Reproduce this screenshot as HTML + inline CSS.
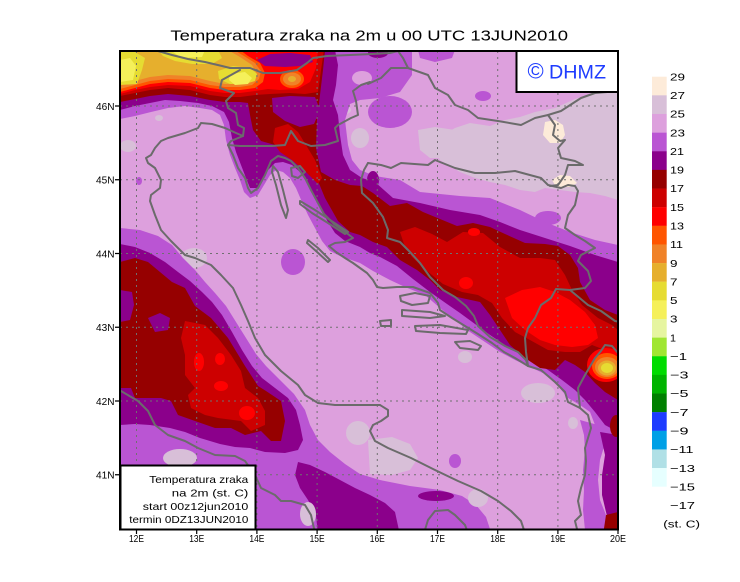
<!DOCTYPE html>
<html><head><meta charset="utf-8"><style>
html,body{margin:0;padding:0;background:#fff;}
svg{display:block;}
text{font-family:"Liberation Sans",sans-serif;fill:#000;}
</style></head><body>
<svg width="740" height="582" viewBox="0 0 740 582" xmlns="http://www.w3.org/2000/svg">
<rect width="740" height="582" fill="#fff"/>
<defs><clipPath id="m"><rect x="120" y="51" width="498" height="478.5"/></clipPath></defs>
<text x="170.4" y="40.6" font-size="15" textLength="397.6" lengthAdjust="spacingAndGlyphs">Temperatura zraka na 2m u 00 UTC 13JUN2010</text>
<g clip-path="url(#m)">
<rect x="115" y="45" width="510" height="490" fill="#dda0dd"/>
<polygon fill="#d8bfd8" points="455,128 470,123 490,126 505,120 520,117 535,112 555,108 575,99 595,93 618,92 618,200 605,196 590,193 575,192 560,190 545,188 535,192 520,190 505,185 490,182 475,178 460,172 448,165 440,160 432,150 438,140 448,132"/>
<polygon fill="#d8bfd8" points="418,130 435,127 455,130 458,145 450,158 430,158 420,150"/>
<ellipse fill="#d8bfd8" cx="345" cy="110" rx="6" ry="4"/>
<ellipse fill="#d8bfd8" cx="360" cy="138" rx="9" ry="10"/>
<polygon fill="#fdebd9" points="545,122 555,120 563,125 565,135 560,143 550,143 543,135"/>
<polygon fill="#fdebd9" points="552,180 560,175 570,176 577,183 570,187 556,187"/>
<ellipse fill="#d8bfd8" cx="128" cy="146" rx="8" ry="6"/>
<ellipse fill="#d8bfd8" cx="159" cy="118" rx="4" ry="3"/>
<ellipse fill="#d8bfd8" cx="194" cy="258" rx="13" ry="10"/>
<ellipse fill="#d8bfd8" cx="465" cy="357" rx="7" ry="6"/>
<ellipse fill="#d8bfd8" cx="538" cy="393" rx="17" ry="10"/>
<ellipse fill="#d8bfd8" cx="358" cy="433" rx="12" ry="12"/>
<ellipse fill="#d8bfd8" cx="573" cy="423" rx="5" ry="6"/>
<polygon fill="#d8bfd8" points="368,440 392,437 410,444 418,458 410,470 392,475 370,474"/>
<ellipse fill="#ba55d3" cx="293" cy="262" rx="12" ry="13"/>
<ellipse fill="#ba55d3" cx="455" cy="461" rx="6" ry="7"/>
<ellipse fill="#ba55d3" cx="139" cy="181" rx="3" ry="4"/>
<ellipse fill="#ba55d3" cx="390" cy="112" rx="22" ry="16"/>
<polygon fill="#ba55d3" points="418,50 455,50 452,58 435,62 420,58"/>
<ellipse fill="#ba55d3" cx="483" cy="96" rx="8" ry="5"/>
<ellipse fill="#ba55d3" cx="548" cy="218" rx="13" ry="7"/>
<polygon fill="#ba55d3" points="120,50 412,50 412,75 400,92 380,98 360,100 350,104 345,120 348,145 352,160 360,170 375,176 400,180 420,192 440,194 460,196 490,198 520,210 545,222 570,232 595,240 618,245 618,448 605,440 595,425 590,412 580,405 568,398 558,386 545,374 530,367 515,360 500,352 485,342 470,332 455,320 440,308 425,295 405,287 390,280 373,271 360,263 340,256 330,251 322,241 315,228 308,215 302,202 296,188 290,178 283,172 276,170 270,175 264,185 258,195 250,198 244,192 240,180 235,168 230,155 226,140 224,125 220,115 212,110 200,108 185,106 168,108 151,112 135,116 120,119"/>
<ellipse fill="#dda0dd" cx="362" cy="78" rx="10" ry="7"/>
<polygon fill="#ba55d3" points="120,228 140,230 158,236 172,245 183,258 195,270 205,282 215,293 226,306 236,322 246,338 256,354 266,366 280,380 294,394 305,410 310,425 318,440 330,452 345,464 360,474 380,480 410,486 440,490 462,496 476,505 486,517 492,535 120,535"/>
<polygon fill="#ba55d3" points="580,420 598,425 606,440 600,460 598,480 600,500 606,515 610,530 585,530 583,510 584,490 583,470 585,450 584,435"/>
<polygon fill="#8b008b" points="120,50 335,50 338,65 336,85 333,100 338,115 340,135 343,155 350,170 362,178 375,182 393,198 420,203 450,210 480,215 500,222 520,230 545,238 570,246 595,255 618,262 618,432 605,425 595,412 585,400 575,390 562,380 548,370 535,362 520,354 505,345 490,335 475,324 460,313 447,304 430,292 413,279 397,266 380,257 370,253 360,247 345,241 335,233 328,222 320,208 313,195 307,183 300,172 292,165 283,162 275,163 268,170 263,180 257,188 250,188 246,178 241,165 236,152 232,138 229,122 224,112 212,106 198,103 180,101 165,100 150,103 135,106 120,110"/>
<polygon fill="#8b008b" points="120,244 135,247 150,253 165,262 178,272 190,281 202,292 212,302 222,315 232,332 242,350 252,366 262,378 275,388 288,398 296,410 300,425 303,440 298,450 285,453 265,452 250,448 235,447 220,444 200,438 185,432 170,428 150,425 135,424 120,425"/>
<polygon fill="#8b008b" points="298,462 310,465 325,472 340,480 355,488 370,495 385,503 395,512 400,535 318,535 316,515 308,500 300,488 295,475"/>
<ellipse fill="#8b008b" cx="436" cy="496" rx="18" ry="5"/>
<ellipse fill="#8b008b" cx="378" cy="53" rx="10" ry="5"/>
<ellipse fill="#8b008b" cx="373" cy="180" rx="6" ry="9"/>
<polygon fill="#8b008b" points="600,432 618,435 618,535 612,535 606,512 602,495 602,475 605,455"/>
<ellipse fill="#d8bfd8" cx="308" cy="514" rx="8" ry="12"/>
<ellipse fill="#d8bfd8" cx="180" cy="458" rx="17" ry="9"/>
<ellipse fill="#d8bfd8" cx="478" cy="498" rx="10" ry="9"/>
<polygon fill="#960000" points="120,50 325,50 323,70 320,95 317,120 316,148 321,172 335,180 350,185 362,186 373,193 390,206 407,203 423,212 440,219 457,226 473,223 490,227 505,234 525,243 545,244 558,246 570,255 578,268 580,282 590,300 605,310 618,315 618,400 605,392 595,383 585,372 575,365 565,360 555,370 540,368 525,358 510,345 500,330 490,315 480,302 457,297 440,290 430,280 417,270 400,260 387,247 373,242 360,235 350,232 338,221 325,198 318,181 308,168 291,151 275,145 261,141 253,130 250,115 248,103 240,102 225,102 210,100 190,96 168,94 150,96 135,99 120,102"/>
<polygon fill="#960000" points="120,262 135,258 148,262 160,272 172,282 185,288 195,306 211,318 228,338 245,366 258,386 266,391 281,401 285,421 281,441 271,441 261,431 245,435 231,428 215,428 195,421 178,415 171,401 161,398 135,398 131,388 120,388"/>
<polygon fill="#960000" points="606,515 618,512 618,535 603,535"/>
<ellipse fill="#960000" cx="616" cy="426" rx="6" ry="11"/>
<polygon fill="#8b008b" points="120,290 132,292 134,305 130,320 120,322"/>
<polygon fill="#8b008b" points="148,318 160,313 170,318 168,330 155,332"/>
<polygon fill="#8b008b" points="272,98 290,96 315,97 320,110 314,124 300,127 285,121 273,112"/>
<polygon fill="#cd0000" points="120,50 324,50 321,70 318,92 305,94 290,93 270,94 255,95 240,97 225,97 210,95 190,90 168,88 150,90 135,93 120,96"/>
<polygon fill="#cd0000" points="275,128 288,124 298,132 306,145 315,160 322,178 318,184 306,172 292,160 280,152 273,142"/>
<polygon fill="#cd0000" points="400,232 415,227 432,234 447,242 463,232 483,233 500,247 520,258 540,258 555,260 565,275 572,290 582,305 598,318 612,325 618,330 618,352 605,350 592,345 580,352 565,352 548,350 530,340 515,332 502,318 492,303 478,295 462,292 443,284 427,271 412,257 404,244"/>
<polygon fill="#cd0000" points="181,338 185,321 205,325 218,338 231,355 241,371 245,388 258,398 265,411 265,425 251,431 241,421 218,418 205,415 191,408 188,395 195,388 185,375 185,355"/>
<polygon fill="#ff0000" points="120,50 318,50 316,68 310,82 298,89 280,90 268,89 255,91 240,93 225,93 210,91 190,86 168,85 150,87 135,90 120,94"/>
<polygon fill="#ff0000" points="505,298 522,290 540,287 555,292 570,300 585,312 595,325 598,338 588,345 572,347 555,345 540,340 525,330 512,318"/>
<ellipse fill="#ff0000" cx="466" cy="283" rx="7" ry="6"/>
<ellipse fill="#ff0000" cx="474" cy="232" rx="6" ry="4"/>
<ellipse fill="#ff0000" cx="199" cy="362" rx="5" ry="9"/>
<ellipse fill="#ff0000" cx="220" cy="359" rx="5" ry="6"/>
<ellipse fill="#ff0000" cx="221" cy="386" rx="7" ry="5"/>
<ellipse fill="#ff0000" cx="247" cy="413" rx="8" ry="7"/>
<polygon fill="#8b008b" points="257,60 270,54 290,53 310,55 313,62 300,66 285,67 265,66"/>
<polygon fill="#ff5500" points="120,50 240,50 248,56 260,63 265,73 263,82 255,88 240,90 225,90 210,88 190,83 168,82 150,84 135,88 120,92"/>
<polygon fill="#f08228" points="120,50 234,50 244,56 255,63 261,71 259,79 252,85 240,87 225,87 210,85 190,80 168,79 150,81 135,85 120,89"/>
<polygon fill="#e6af2d" points="120,50 228,50 240,57 252,65 257,74 253,81 240,84 225,84 210,81 190,76 168,75 150,77 135,81 120,85"/>
<polygon fill="#e6dc32" points="120,52 135,52 145,58 142,70 137,84 120,85"/>
<polygon fill="#e6dc32" points="158,50 218,50 222,58 212,64 192,64 175,61 163,56"/>
<polygon fill="#e6dc32" points="218,71 233,66 250,68 257,74 255,81 245,84 230,84 219,79"/>
<polygon fill="#f5f05a" points="120,60 130,58 136,66 133,80 120,82"/>
<polygon fill="#f5f05a" points="170,50 205,50 202,57 182,58"/>
<polygon fill="#f5f05a" points="230,74 245,72 252,78 248,84 235,85 229,80"/>
<ellipse fill="#ff5500" cx="292" cy="79" rx="12" ry="9"/>
<ellipse fill="#f08228" cx="292" cy="79" rx="9" ry="6.5"/>
<ellipse fill="#e6af2d" cx="292" cy="79" rx="4" ry="3"/>
<ellipse fill="#ff0000" cx="606" cy="365" rx="19" ry="17"/>
<ellipse fill="#ff5500" cx="607" cy="366" rx="15" ry="13"/>
<ellipse fill="#f08228" cx="607" cy="367" rx="12" ry="10"/>
<ellipse fill="#e6af2d" cx="607" cy="368" rx="9" ry="7.5"/>
<ellipse fill="#e6dc32" cx="607" cy="368" rx="6" ry="5"/>
<g stroke="#707070" stroke-width="1" stroke-dasharray="2 4" fill="none">
<path d="M136.5 51V530M196.7 51V530M256.9 51V530M317.1 51V530M377.3 51V530M437.5 51V530M497.7 51V530M557.9 51V530"/>
<path d="M120 106H618M120 179.75H618M120 253.5H618M120 327.25H618M120 401H618M120 474.75H618"/>
</g>
<g stroke="#6b6b6b" stroke-width="2" fill="none" stroke-linejoin="round" stroke-linecap="round">
<polyline points="158,51 172,55 188,59 205,62 222,66 230,68 250,68 263,73 280,73 297,70 307,63 313,58 327,56 350,55 372,54 390,53 398,51"/>
<polyline points="398,51 403,58 408,68"/>
<polyline points="368,84 381,78 391,68 408,68 428,75 435,88 448,95 455,105 468,110 478,118 498,121 521,125 535,118 548,115 561,111 581,98 595,93 620,91"/>
<polyline points="228,145 240,146 258,146 272,146 285,145 291,131 298,141 311,146 325,145 338,141 335,128 338,125 351,118 358,115 356,101 353,91 361,85 370,82"/>
<polyline points="240,70 222,80 220,88 234,93 226,101 228,108 236,113 238,125 244,128 243,136"/>
<polyline points="243,136 236,133 225,128 212,124 201,123 198,128 185,133 168,138 161,141 155,148 151,155 146,158 148,163 155,168 161,180 160,188 151,195 150,201 155,215 161,230 171,241 185,255 195,258 211,265 221,275 233,288 241,305 248,321 255,338 265,355 281,371 298,385 305,395 318,403 335,405 355,405 370,405 380,405 388,410 388,416 381,421 373,425 370,431 375,441 388,448 411,458 435,470 458,481 481,491 498,501 511,511 521,521 525,533"/>
<polyline points="118,389 121,391 138,401 148,411 155,425 168,435 185,441 198,448 215,455 235,456 245,461 255,475 261,488 275,495 281,501 291,501 305,505 311,515 315,533"/>
<polyline points="424,533 428,520 435,511 448,510 455,515 465,525 468,533"/>
<polyline points="243,136 231,141 228,145 233,155 238,168 245,178 248,188 251,193 258,188 265,175 268,168 271,161 278,156 285,158 291,161 298,168 305,178 311,190 318,203 324,214 334,224 344,231 353,238 345,242 335,243 329,246 336,252 345,258 353,263 367,273 373,280 377,287 383,288 397,287 413,287 430,293 438,303 440,310 452,318 465,326 478,334 492,343 504,352 515,358 528,366 541,370 555,382 565,392 568,402 580,408 588,415 591,428 588,438 585,448 586,461 585,475 581,488 578,501 581,515 575,521 578,533"/>
<polyline points="368,163 364,170 361,180 362,193 373,203 383,217 388,230 387,238 400,242 410,252 420,263 430,277 443,290 455,297 466,306 474,316 478,326 490,337 505,346 518,352 526,360 528,366"/>
<polyline points="368,163 381,165 391,168 401,163 428,165 435,160 455,168 475,173 495,173 515,171 541,178 548,185 561,188 568,185 575,186 578,191 575,205 568,215 565,228 575,235 585,241 595,248 581,255 578,261 588,271 591,281 585,288 570,290 556,289 551,298 541,305 535,318 528,328 525,338 526,352 528,366"/>
<polyline points="570,290 588,305 601,311 615,321 620,322"/>
<polyline points="618,353 612,346 605,345 601,351 595,358 585,375 578,388 580,408"/>
<polyline points="548,115 555,125 553,135 560,141 565,140 558,148 561,158 575,161 583,165 568,165 565,175 558,185 550,186"/>
<polygon points="273,166 278,172 283,190 288,210 286,218 281,205 276,185 272,172"/>
<polygon points="291,168 300,166 305,172 298,178 292,176"/>
<polygon points="300,201 315,210 330,220 348,232 345,234 328,223 312,213 300,204"/>
<polygon points="308,240 318,248 330,260 328,262 316,251 307,243"/>
<polygon points="400,296 415,293 430,296 428,303 412,305 401,301"/>
<polygon points="402,310 430,312 445,316 430,318 402,316"/>
<polygon points="415,326 440,325 468,330 466,334 440,333 416,331"/>
<polygon points="455,342 470,341 481,346 478,350 460,348"/>
<polygon points="380,321 391,320 391,326 381,326"/>
</g>
</g>
<rect x="516.5" y="51" width="101.5" height="41" fill="#fff" stroke="#000" stroke-width="2"/>
<text x="527.5" y="78.5" font-size="22" style="fill:#1e3cff">©</text>
<text x="549" y="78.3" font-size="19.5" textLength="57" lengthAdjust="spacingAndGlyphs" style="fill:#1e3cff">DHMZ</text>
<rect x="120.5" y="465.5" width="135" height="64" fill="#fff" stroke="#000" stroke-width="2"/>
<g font-size="10.5" text-anchor="end">
<text x="248.3" y="483" textLength="99" lengthAdjust="spacingAndGlyphs">Temperatura zraka</text>
<text x="248.3" y="496.4" textLength="76.5" lengthAdjust="spacingAndGlyphs">na 2m (st. C)</text>
<text x="248.3" y="509.8" textLength="105.5" lengthAdjust="spacingAndGlyphs">start 00z12jun2010</text>
<text x="248.3" y="523.2" textLength="119" lengthAdjust="spacingAndGlyphs">termin 0DZ13JUN2010</text>
</g>
<rect x="120" y="51" width="498" height="478.5" fill="none" stroke="#000" stroke-width="2"/>
<g stroke="#000" stroke-width="1.2">
<path d="M115 106H120M115 179.75H120M115 253.5H120M115 327.25H120M115 401H120M115 474.75H120"/>
<path d="M136.5 530V534M196.7 530V534M256.9 530V534M317.1 530V534M377.3 530V534M437.5 530V534M497.7 530V534M557.9 530V534M618 530V534"/>
</g>
<g font-size="10.5" text-anchor="end">
<text x="114.5" y="109.8" textLength="18.5" lengthAdjust="spacingAndGlyphs">46N</text>
<text x="114.5" y="183.5" textLength="18.5" lengthAdjust="spacingAndGlyphs">45N</text>
<text x="114.5" y="257.3" textLength="18.5" lengthAdjust="spacingAndGlyphs">44N</text>
<text x="114.5" y="331" textLength="18.5" lengthAdjust="spacingAndGlyphs">43N</text>
<text x="114.5" y="404.8" textLength="18.5" lengthAdjust="spacingAndGlyphs">42N</text>
<text x="114.5" y="478.5" textLength="18.5" lengthAdjust="spacingAndGlyphs">41N</text>
</g>
<g font-size="10.5" text-anchor="middle">
<text x="136.5" y="542" textLength="15" lengthAdjust="spacingAndGlyphs">12E</text>
<text x="196.7" y="542" textLength="15" lengthAdjust="spacingAndGlyphs">13E</text>
<text x="256.9" y="542" textLength="15" lengthAdjust="spacingAndGlyphs">14E</text>
<text x="317.1" y="542" textLength="15" lengthAdjust="spacingAndGlyphs">15E</text>
<text x="377.3" y="542" textLength="15" lengthAdjust="spacingAndGlyphs">16E</text>
<text x="437.5" y="542" textLength="15" lengthAdjust="spacingAndGlyphs">17E</text>
<text x="497.7" y="542" textLength="15" lengthAdjust="spacingAndGlyphs">18E</text>
<text x="557.9" y="542" textLength="15" lengthAdjust="spacingAndGlyphs">19E</text>
<text x="618" y="542" textLength="16" lengthAdjust="spacingAndGlyphs">20E</text>
</g>
<g>
<rect x="652" y="76.7" width="14.7" height="18.8" fill="#fdebd9"/>
<rect x="652" y="95.34" width="14.7" height="18.8" fill="#d8bfd8"/>
<rect x="652" y="113.97" width="14.7" height="18.8" fill="#dda0dd"/>
<rect x="652" y="132.61" width="14.7" height="18.8" fill="#ba55d3"/>
<rect x="652" y="151.24" width="14.7" height="18.8" fill="#8b008b"/>
<rect x="652" y="169.88" width="14.7" height="18.8" fill="#960000"/>
<rect x="652" y="188.52" width="14.7" height="18.8" fill="#cd0000"/>
<rect x="652" y="207.15" width="14.7" height="18.8" fill="#ff0000"/>
<rect x="652" y="225.79" width="14.7" height="18.8" fill="#ff5500"/>
<rect x="652" y="244.42" width="14.7" height="18.8" fill="#f08228"/>
<rect x="652" y="263.06" width="14.7" height="18.8" fill="#e6af2d"/>
<rect x="652" y="281.70" width="14.7" height="18.8" fill="#e6dc32"/>
<rect x="652" y="300.33" width="14.7" height="18.8" fill="#f5f05a"/>
<rect x="652" y="318.97" width="14.7" height="18.8" fill="#e6f5a0"/>
<rect x="652" y="337.60" width="14.7" height="18.8" fill="#a0e632"/>
<rect x="652" y="356.24" width="14.7" height="18.8" fill="#00dc00"/>
<rect x="652" y="374.88" width="14.7" height="18.8" fill="#00b400"/>
<rect x="652" y="393.51" width="14.7" height="18.8" fill="#008000"/>
<rect x="652" y="412.15" width="14.7" height="18.8" fill="#1e3cff"/>
<rect x="652" y="430.78" width="14.7" height="18.8" fill="#00a0e6"/>
<rect x="652" y="449.42" width="14.7" height="18.8" fill="#b0e0e6"/>
<rect x="652" y="468.06" width="14.7" height="18.64" fill="#e6ffff"/>
</g>
<g font-size="10.5">
<text x="670" y="80.4" textLength="15" lengthAdjust="spacingAndGlyphs">29</text>
<text x="670" y="99.0" textLength="15" lengthAdjust="spacingAndGlyphs">27</text>
<text x="670" y="117.7" textLength="15" lengthAdjust="spacingAndGlyphs">25</text>
<text x="670" y="136.3" textLength="15" lengthAdjust="spacingAndGlyphs">23</text>
<text x="670" y="155.0" textLength="14" lengthAdjust="spacingAndGlyphs">21</text>
<text x="670" y="173.6" textLength="14" lengthAdjust="spacingAndGlyphs">19</text>
<text x="670" y="192.2" textLength="14" lengthAdjust="spacingAndGlyphs">17</text>
<text x="670" y="210.9" textLength="14" lengthAdjust="spacingAndGlyphs">15</text>
<text x="670" y="229.5" textLength="14" lengthAdjust="spacingAndGlyphs">13</text>
<text x="670" y="248.1" textLength="13" lengthAdjust="spacingAndGlyphs">11</text>
<text x="670" y="266.8" textLength="7.5" lengthAdjust="spacingAndGlyphs">9</text>
<text x="670" y="285.4" textLength="7.5" lengthAdjust="spacingAndGlyphs">7</text>
<text x="670" y="304.0" textLength="7.5" lengthAdjust="spacingAndGlyphs">5</text>
<text x="670" y="322.7" textLength="7.5" lengthAdjust="spacingAndGlyphs">3</text>
<text x="670" y="341.3" textLength="6" lengthAdjust="spacingAndGlyphs">1</text>
<text x="670" y="359.9" textLength="17" lengthAdjust="spacingAndGlyphs">−1</text>
<text x="670" y="378.6" textLength="18.5" lengthAdjust="spacingAndGlyphs">−3</text>
<text x="670" y="397.2" textLength="18.5" lengthAdjust="spacingAndGlyphs">−5</text>
<text x="670" y="415.9" textLength="18.5" lengthAdjust="spacingAndGlyphs">−7</text>
<text x="670" y="434.5" textLength="18.5" lengthAdjust="spacingAndGlyphs">−9</text>
<text x="670" y="453.1" textLength="23.5" lengthAdjust="spacingAndGlyphs">−11</text>
<text x="670" y="471.8" textLength="25" lengthAdjust="spacingAndGlyphs">−13</text>
<text x="670" y="490.4" textLength="25" lengthAdjust="spacingAndGlyphs">−15</text>
<text x="670" y="509.0" textLength="25" lengthAdjust="spacingAndGlyphs">−17</text>
<text x="663.3" y="527.5" textLength="36.7" lengthAdjust="spacingAndGlyphs">(st. C)</text>
</g>
</svg>
</body></html>
